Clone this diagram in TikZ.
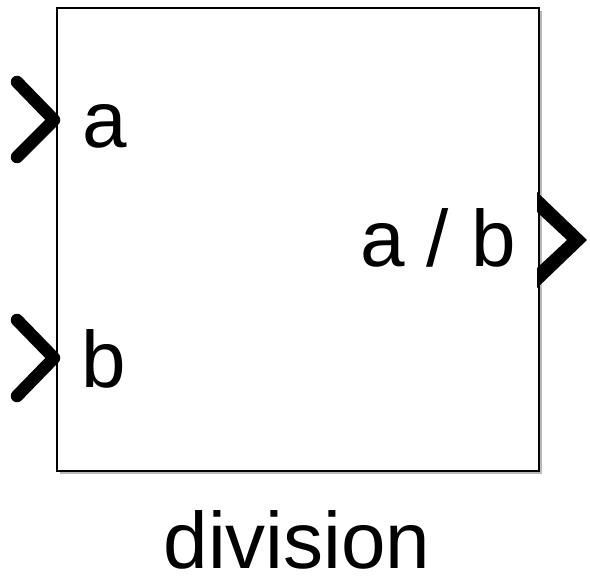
\documentclass[tikz,border=0pt]{standalone}
\usepackage{fontspec}
\setmainfont{Liberation Sans}
\usetikzlibrary{positioning,shadows}

\tikzset{
	blockbox/.style={draw, line width=2.5pt, fill=white, inner sep=0pt,
		minimum width=482pt, minimum height=463pt,
		drop shadow={shadow xshift=3pt, shadow yshift=-3pt, opacity=0.55}},
	inport/.style={line width=12.5pt, line cap=round, line join=round},
	outport/.style={fill=black},
	portlabel/.style={font=\fontsize{80}{90}\selectfont, inner sep=0pt},
}

\begin{document}
\begin{tikzpicture}[x=1pt, y=-1pt]
	\useasboundingbox (0,0) rectangle (590,583);

	% блок
	\node [blockbox] (block) at (298,239.5) {};

	% порты
	\coordinate (portA) at (54,120);
	\coordinate (portB) at (54,358);
	\coordinate (portOut) at (537,240);

	\draw [inport] ([shift={(-37,-38)}]portA) -- (portA) -- ([shift={(-37,37)}]portA);
	\draw [inport] ([shift={(-37,-38)}]portB) -- (portB) -- ([shift={(-37,38)}]portB);
	\fill [outport] ([shift={(0,-48)}]portOut) -- ([shift={(50,0)}]portOut) -- ([shift={(0,48)}]portOut)
		-- ([shift={(0,28)}]portOut) -- ([shift={(30,0)}]portOut) -- ([shift={(0,-28)}]portOut) -- cycle;

	% подписи
	\node [portlabel, anchor=base west] (lblA) at (82,148) {a};
	\node [portlabel, anchor=base west] (lblB) at (81,388) {b};
	\node [portlabel, anchor=base east] (lblOut) at (516,267) {a / b};
	\node [portlabel, anchor=base] (caption) at (297,568) {division};
\end{tikzpicture}
\end{document}
